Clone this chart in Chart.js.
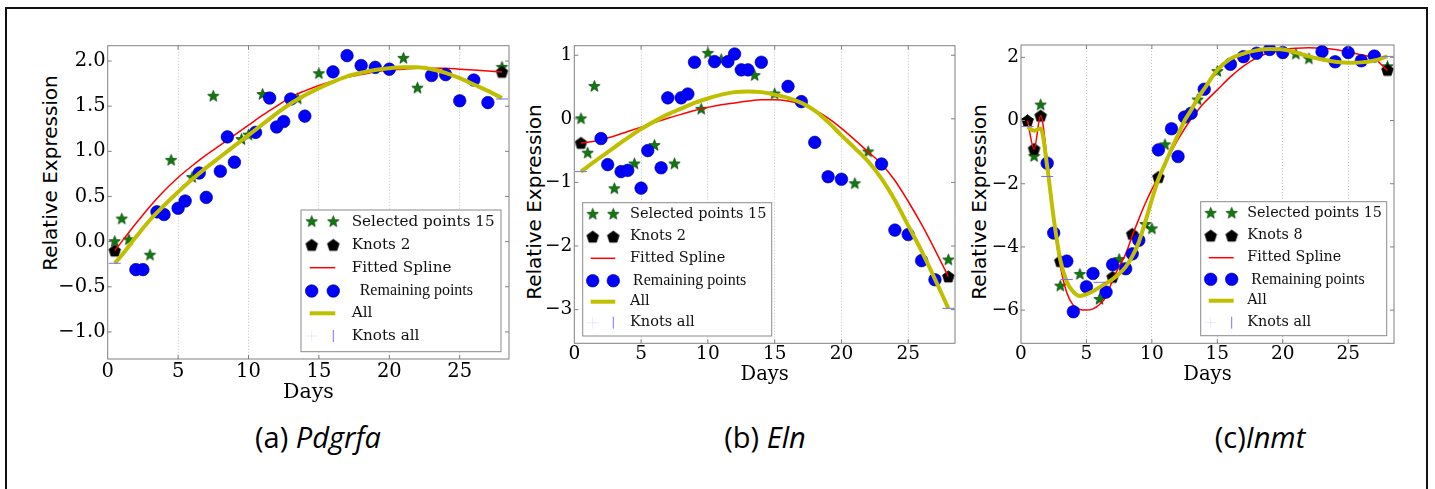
<!DOCTYPE html>
<html>
<head>
<meta charset="utf-8">
<script src="https://cdn.jsdelivr.net/npm/chart.js@4.4.1/dist/chart.umd.min.js"></script>
<style>
  html,body{margin:0;padding:0;background:#fff;}
  body{position:relative;width:1435px;height:489px;overflow:hidden;}
  .frame{position:absolute;left:5px;top:7px;width:1423px;height:600px;border:2px solid #111;box-sizing:border-box;}
  .box{position:absolute;}
  .ylab{position:absolute;font-family:"DejaVu Sans";font-size:20px;line-height:24px;height:24px;width:260px;text-align:center;transform:rotate(-90deg);white-space:nowrap;color:#000;}
  .cap{position:absolute;font-family:"Open Sans";font-size:29px;line-height:34px;height:34px;width:300px;text-align:center;white-space:nowrap;color:#000;}
</style>
</head>
<body>
<div class="frame"></div>
<div class="ylab" style="left:-80.5px;top:160.5px;">Relative Expression</div>
<div class="ylab" style="left:404px;top:189.7px;">Relative Expression</div>
<div class="ylab" style="left:849.4px;top:189.7px;">Relative Expression</div>
<div class="cap" style="left:168px;top:419.8px;">(a) <i>Pdgrfa</i></div>
<div class="cap" style="left:615px;top:419.8px;">(b) <i>Eln</i></div>
<div class="cap" style="left:1110px;top:419.8px;">(c)<i>Inmt</i></div>

<script>
// ---------- shared sampling days ----------
const selectedDays  = [0.5,1,1.5,3,4.5,6,7.5,9.5,10,11,13.5,15,21,22,28];
const remainingDays = [2,2.5,3.5,4,5,5.5,6.5,7,8,8.5,9,10.5,11.5,12,12.5,13,14,16,17,18,19,20,23,24,25,26,27];
const curveDaysAB   = [0.5,1,2,3,4,5,6,7,8,9,10,11,12,13,14,15,16,17,18,19,20,21,22,23,24,25,26,27,28];
const curveDaysC    = [0.5,1,1.5,2,2.5,3,3.5,4,4.5,5,5.5,6,6.5,7,7.5,8,8.5,9,9.5,10,10.5,11,11.5,12,12.5,13,13.5,14,15,16,17,18,19,20,21,22,23,24,25,26,27,28];
const xTicks      = [0,5,10,15,20,25];
const xTickLabels = ['0','5','10','15','20','25'];

// ---------- (a) Pdgrfa ----------
const pdgrfaSelected  = [0.00,0.25,0.02,-0.15,0.90,0.71,1.61,1.13,1.18,1.63,1.58,1.86,2.03,1.70,1.93];
const pdgrfaKnotDays  = [0.5,28];
const pdgrfaKnots     = [-0.10,1.88];
const pdgrfaRemaining = [-0.31,-0.31,0.33,0.30,0.37,0.45,0.76,0.49,0.78,1.16,0.88,1.21,1.59,1.27,1.33,1.58,1.39,1.88,2.06,1.95,1.93,1.91,1.84,1.85,1.56,1.79,1.54];
const pdgrfaSpline    = [-0.10,0.00,0.20,0.39,0.56,0.71,0.84,0.96,1.07,1.18,1.29,1.40,1.50,1.60,1.67,1.73,1.78,1.82,1.85,1.88,1.90,1.91,1.92,1.92,1.92,1.91,1.90,1.89,1.88];
const pdgrfaAll       = [-0.24,-0.15,0.05,0.24,0.40,0.55,0.69,0.82,0.94,1.06,1.18,1.30,1.42,1.53,1.62,1.70,1.77,1.83,1.87,1.90,1.92,1.93,1.93,1.91,1.87,1.81,1.74,1.67,1.59];
const pdgrfaKnotsAllDays = [0.5,28];
const pdgrfaKnotsAll     = [-0.24,1.58];
const pdgrfaYTicks  = [-1,-0.5,0,0.5,1,1.5,2];
const pdgrfaYLabels = ['\u22121.0','\u22120.5','0.0','0.5','1.0','1.5','2.0'];

// ---------- (b) Eln ----------
const elnSelected  = [0.00,-0.54,0.51,-1.10,-0.71,-0.42,-0.71,0.15,1.03,0.93,0.68,0.39,-1.02,-0.52,-2.22];
const elnKnotDays  = [0.5,28];
const elnKnots     = [-0.38,-2.48];
const elnRemaining = [-0.31,-0.72,-0.83,-0.81,-1.09,-0.50,-0.77,0.33,0.33,0.39,0.89,0.90,0.90,1.02,0.77,0.77,0.89,0.51,0.27,-0.37,-0.91,-0.95,-0.71,-1.75,-1.82,-2.23,-2.53];
const elnSpline    = [-0.38,-0.37,-0.33,-0.27,-0.20,-0.13,-0.06,0.01,0.07,0.13,0.18,0.22,0.25,0.28,0.30,0.30,0.28,0.23,0.14,0.01,-0.15,-0.33,-0.52,-0.71,-0.97,-1.30,-1.66,-2.06,-2.48];
const elnAll       = [-0.83,-0.75,-0.60,-0.45,-0.30,-0.16,-0.04,0.07,0.16,0.25,0.32,0.38,0.42,0.43,0.42,0.38,0.33,0.25,0.13,-0.05,-0.26,-0.46,-0.67,-0.94,-1.28,-1.68,-2.08,-2.52,-2.98];
const elnKnotsAllDays = [0.5,28];
const elnKnotsAll     = [-0.83,-2.98];
const elnYTicks  = [-3,-2,-1,0,1];
const elnYLabels = ['\u22123','\u22122','\u22121','0','1'];

// ---------- (c) Inmt ----------
const inmtSelected  = [0.00,-1.14,0.49,-5.24,-4.87,-5.66,-4.40,-3.29,-3.43,-0.77,0.65,1.55,2.10,1.95,1.70];
const inmtKnotDays  = [0.5,1,1.5,3,7,8.5,10.5,28];
const inmtKnots     = [0.00,-0.90,0.15,-4.45,-4.95,-3.59,-1.79,1.60];
const inmtRemaining = [-1.35,-3.56,-4.45,-6.05,-5.26,-4.84,-5.43,-4.56,-4.69,-4.22,-3.79,-0.93,-0.26,-1.14,0.11,0.23,0.99,1.78,2.02,2.13,2.25,2.15,2.18,1.86,2.15,1.89,2.04];
const inmtSpline    = [0.00,-0.90,0.15,-1.25,-3.20,-4.60,-5.45,-5.85,-5.98,-6.00,-5.96,-5.82,-5.57,-5.05,-4.62,-4.22,-3.65,-3.12,-2.62,-2.18,-1.79,-1.38,-0.98,-0.60,-0.26,0.05,0.32,0.56,0.97,1.38,1.72,1.98,2.15,2.25,2.29,2.30,2.29,2.25,2.17,2.08,1.96,1.58];
const inmtAll       = [-0.20,-0.32,-0.25,-1.45,-3.10,-4.40,-5.10,-5.42,-5.55,-5.50,-5.40,-5.28,-5.15,-5.02,-4.85,-4.63,-4.30,-3.85,-3.20,-2.50,-1.85,-1.38,-0.90,-0.45,0.00,0.33,0.70,1.00,1.60,1.95,2.12,2.22,2.26,2.25,2.15,2.03,1.93,1.86,1.83,1.84,1.90,2.03];
const inmtKnotsAllDays = [0.5,2,3.5,6,28];
const inmtKnotsAll     = [-0.19,-1.77,-5.03,-5.12,2.03];
const inmtYTicks  = [-6,-4,-2,0,2];
const inmtYLabels = ['\u22126','\u22124','\u22122','0','2'];

// ---------- marker images ----------
function makeMarker(kind, size, R, fill, stroke){
  const c = document.createElement('canvas'); c.width = size; c.height = size;
  const g = c.getContext('2d'); const cx = size/2, cy = size/2;
  g.beginPath();
  if (kind === 'star'){
    const r = R*0.42;
    for (let i=0;i<10;i++){ const a=-Math.PI/2+i*Math.PI/5; const rr=(i%2)?r:R; g.lineTo(cx+rr*Math.cos(a), cy+rr*Math.sin(a)); }
  } else {
    for (let i=0;i<5;i++){ const a=-Math.PI/2+i*2*Math.PI/5; g.lineTo(cx+R*Math.cos(a), cy+0.5+R*Math.sin(a)); }
  }
  g.closePath(); g.fillStyle = fill; g.fill();
  g.lineWidth = 0.7; g.strokeStyle = stroke; g.stroke();
  return c;
}
const STAR = makeMarker('star', 15, 6.0, '#0c7c0c', '#003a00');
const PENT = makeMarker('pent', 15, 6.2, '#000000', '#000000');

const pts = (xs, ys) => xs.map((x,i)=>({x:x, y:ys[i]}));

// ---------- plugin: spines, inward ticks, matplotlib-like legend ----------
const mplPlugin = {
  id:'mpl',
  afterDatasetsDraw(chart, args, o){
    const ctx = chart.ctx, a = chart.chartArea, xs = chart.scales.x, ys = chart.scales.y;
    ctx.save();
    ctx.strokeStyle = '#808080'; ctx.lineWidth = 1;
    ctx.strokeRect(a.left, a.top, a.right-a.left, a.bottom-a.top);
    ctx.beginPath();
    xTicks.forEach(v=>{ const p=xs.getPixelForValue(v); if (v===0) return;
      ctx.moveTo(p,a.bottom); ctx.lineTo(p,a.bottom-4); ctx.moveTo(p,a.top); ctx.lineTo(p,a.top+4); });
    o.yTicks.forEach(v=>{ const p=ys.getPixelForValue(v);
      ctx.moveTo(a.left,p); ctx.lineTo(a.left+4,p); ctx.moveTo(a.right,p); ctx.lineTo(a.right-4,p); });
    ctx.stroke();

    // legend
    const L = o.legend, ox = o.ox, oy = o.oy;
    const x0=L.box[0]-ox, y0=L.box[1]-oy, x1=L.box[2]-ox, y1=L.box[3]-oy;
    ctx.fillStyle='#fff'; ctx.fillRect(x0,y0,x1-x0,y1-y0);
    ctx.strokeStyle='#8a8a8a'; ctx.lineWidth=1; ctx.strokeRect(x0,y0,x1-x0,y1-y0);
    const m0=L.mx[0]-ox, m1=L.mx[1]-ox, tx=L.tx-ox;
    const r = L.rows.map(v=>v-oy);
    const img=(im,x,y)=>ctx.drawImage(im, x-im.width/2, y-im.height/2);
    img(STAR,m0,r[0]); img(STAR,m1,r[0]);
    img(PENT,m0,r[1]); img(PENT,m1,r[1]);
    ctx.strokeStyle='#ff0000'; ctx.lineWidth=1.5; ctx.beginPath(); ctx.moveTo(m0-2,r[2]); ctx.lineTo(m1+2,r[2]); ctx.stroke();
    ctx.fillStyle='#0000ff'; ctx.strokeStyle='#00008a'; ctx.lineWidth=0.6;
    [m0,m1].forEach(m=>{ ctx.beginPath(); ctx.arc(m,r[3],6.3,0,Math.PI*2); ctx.fill(); ctx.stroke(); });
    ctx.strokeStyle='#bfbf00'; ctx.lineWidth=4; ctx.beginPath(); ctx.moveTo(m0-2,r[4]); ctx.lineTo(m1+2,r[4]); ctx.stroke();
    ctx.strokeStyle='rgba(150,150,230,0.18)'; ctx.lineWidth=1; ctx.beginPath();
    ctx.moveTo(m0-6,r[5]); ctx.lineTo(m0+6,r[5]); ctx.moveTo(m0,r[5]-6); ctx.lineTo(m0,r[5]+6); ctx.stroke();
    ctx.strokeStyle='rgba(90,90,255,0.85)'; ctx.beginPath(); ctx.moveTo(m1,r[5]-6); ctx.lineTo(m1,r[5]+6); ctx.stroke();
    ctx.fillStyle='#111'; ctx.textBaseline='middle'; ctx.textAlign='left';
    ctx.font = L.font+'px "DejaVu Serif"';
    ctx.fillText('Selected points 15', tx, r[0]);
    ctx.fillText(L.knotLabel, tx, r[1]);
    ctx.fillText('Fitted Spline', tx, r[2]);
    ctx.fillText('All', tx, r[4]);
    ctx.fillText('Knots all', tx, r[5]);
    ctx.font = '16px "Liberation Serif"';
    ctx.fillText('Remaining points', tx+L.remOff, r[3]);
    ctx.restore();
  }
};

function makeChart(p){
  const wrap = document.createElement('div'); wrap.className='box';
  wrap.style.left=p.box[0]+'px'; wrap.style.top=p.box[1]+'px';
  wrap.style.width=p.box[2]+'px'; wrap.style.height=p.box[3]+'px';
  const cv = document.createElement('canvas'); cv.width=p.box[2]; cv.height=p.box[3];
  wrap.appendChild(cv); document.body.appendChild(wrap);
  const padTop = p.area.top - p.box[1];
  const padRight = p.box[0] + p.box[2] - p.area.right;
  const yW = p.area.left - p.box[0];
  const xH = p.box[1] + p.box[3] - p.area.bottom;
  new Chart(cv, {
    type:'scatter',
    data:{datasets:[
      {label:'Selected points 15', type:'scatter', data:pts(selectedDays,p.sel), pointStyle:STAR, pointRadius:6, order:6},
      {label:p.knotLabel, type:'scatter', data:pts(p.knotDays,p.knots), pointStyle:PENT, pointRadius:6, order:5},
      {label:'Fitted Spline', type:'line', data:pts(p.curveDays,p.spline), borderColor:'#ff0000', borderWidth:1.5, pointRadius:0, cubicInterpolationMode:'monotone', fill:false, order:4},
      {label:'Remaining points', type:'scatter', data:pts(remainingDays,p.rem), pointStyle:'circle', pointRadius:6.3, backgroundColor:'#0000ff', borderColor:'#00008a', borderWidth:0.6, order:3},
      {label:'All', type:'line', data:pts(p.curveDays,p.all), borderColor:'#bfbf00', borderWidth:4, pointRadius:0, cubicInterpolationMode:'monotone', fill:false, order:2},
      {label:'Knots all', type:'scatter', data:pts(p.kaDays,p.ka), pointStyle:'line', pointRadius:6, borderColor:'#7070ff', borderWidth:1, backgroundColor:'#7070ff', order:1}
    ]},
    options:{
      responsive:false, animation:false, events:[], devicePixelRatio:1,
      layout:{padding:{top:padTop, right:padRight, left:0, bottom:0}},
      plugins:{
        legend:{display:false}, tooltip:{enabled:false},
        mpl:{yTicks:p.yTicks, ox:p.box[0], oy:p.box[1], legend:p.legend}
      },
      scales:{
        x:{type:'linear', min:0, max:28.5,
           afterBuildTicks:s=>{ s.ticks = xTicks.map(v=>({value:v})); },
           afterFit:s=>{ s.height = xH; },
           ticks:{callback:(v,i)=>xTickLabels[i], autoSkip:false, maxRotation:0, padding:p.xTickPad,
                  font:{family:'DejaVu Serif', size:p.tickFont}, color:'#000'},
           grid:{display:true, drawTicks:false, lineWidth:1,
                 color:c=>(c.tick && c.tick.value===0)?'rgba(0,0,0,0)':'#c2c2c2'},
           border:{display:false, dash:[1,2]},
           title:{display:true, text:'Days', color:'#000',
                  font:{family:'DejaVu Serif', size:p.titleFont}, padding:{top:0, bottom:p.titlePad}}
        },
        y:{type:'linear', min:p.yMin, max:p.yMax,
           afterBuildTicks:s=>{ s.ticks = p.yTicks.map(v=>({value:v})); },
           afterFit:s=>{ s.width = yW; },
           ticks:{callback:(v,i)=>p.yLabels[i], autoSkip:false, padding:2,
                  font:{family:'DejaVu Serif', size:p.tickFont}, color:'#000'},
           grid:{display:false, drawTicks:false},
           border:{display:false}
        }
      }
    },
    plugins:[mplPlugin]
  });
}

makeChart({
  box:[30,30,490,380], area:{left:107.7,right:509,top:45.7,bottom:359},
  yMin:-1.3, yMax:2.17, yTicks:pdgrfaYTicks, yLabels:pdgrfaYLabels,
  tickFont:19.5, titleFont:20.5, titlePad:4.8, xTickPad:1,
  sel:pdgrfaSelected, knotDays:pdgrfaKnotDays, knots:pdgrfaKnots, knotLabel:'Knots 2',
  rem:pdgrfaRemaining, curveDays:curveDaysAB, spline:pdgrfaSpline, all:pdgrfaAll,
  kaDays:pdgrfaKnotsAllDays, ka:pdgrfaKnotsAll,
  legend:{box:[301,210,501,351.7], mx:[311.7,333.3], tx:351.7, rows:[221.7,245,267.7,291,313.3,336], font:15.2, remOff:8, knotLabel:'Knots 2'}
});
makeChart({
  box:[510,30,460,370], area:{left:574.3,right:955,top:45.7,bottom:343.3},
  yMin:-3.53, yMax:1.15, yTicks:elnYTicks, yLabels:elnYLabels,
  tickFont:18.5, titleFont:19.5, titlePad:13.3, xTickPad:0,
  sel:elnSelected, knotDays:elnKnotDays, knots:elnKnots, knotLabel:'Knots 2',
  rem:elnRemaining, curveDays:curveDaysAB, spline:elnSpline, all:elnAll,
  kaDays:elnKnotsAllDays, ka:elnKnotsAll,
  legend:{box:[582.7,202.7,771.7,336], mx:[592.7,613.3], tx:630, rows:[214.3,236.7,258.3,280.7,301.7,322.7], font:14.5, remOff:3, knotLabel:'Knots 2'}
});
makeChart({
  box:[960,30,460,370], area:{left:1021,right:1394,top:45,bottom:343.3},
  yMin:-7.05, yMax:2.39, yTicks:inmtYTicks, yLabels:inmtYLabels,
  tickFont:18.5, titleFont:19.5, titlePad:13.3, xTickPad:0,
  sel:inmtSelected, knotDays:inmtKnotDays, knots:inmtKnots, knotLabel:'Knots 8',
  rem:inmtRemaining, curveDays:curveDaysC, spline:inmtSpline, all:inmtAll,
  kaDays:inmtKnotsAllDays, ka:inmtKnotsAll,
  legend:{box:[1200.7,201.7,1386.7,335.7], mx:[1210.7,1231.7], tx:1247.3, rows:[213.3,235.7,257.7,279.3,300.7,322.7], font:14.3, remOff:4, knotLabel:'Knots 8'}
});
</script>
</body>
</html>
